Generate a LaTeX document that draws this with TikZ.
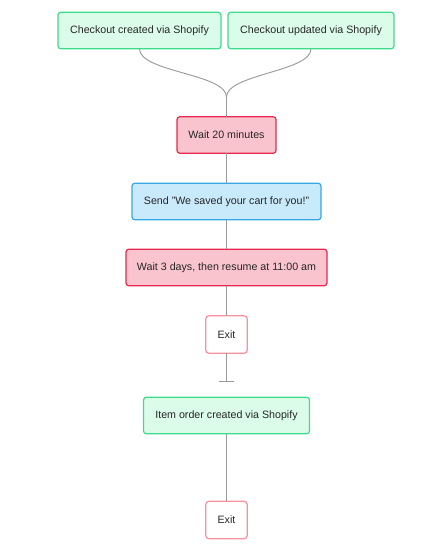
\documentclass[tikz,border=0pt]{standalone}
\usepackage{fontspec}
\setmainfont{Liberation Sans}
\usetikzlibrary{arrows.meta}

\definecolor{trigfill}{HTML}{DCFCEA}
\definecolor{trigline}{HTML}{3EDC8A}
\definecolor{waitfill}{HTML}{F9C4CD}
\definecolor{waitline}{HTML}{E8284E}
\definecolor{sendfill}{HTML}{C9EAFB}
\definecolor{sendline}{HTML}{37A7E6}
\definecolor{exitline}{HTML}{F7909F}
\definecolor{wire}{HTML}{9A9A9A}

\tikzset{
	box/.style={draw,rounded corners=2.2pt,line width=0.9pt,inner sep=0,outer sep=0,
		minimum height=27.5pt,font=\fontsize{8}{9.6}\selectfont,text=black!85},
	trigger/.style={box,fill=trigfill,draw=trigline},
	waitbox/.style={box,fill=waitfill,draw=waitline},
	sendbox/.style={box,fill=sendfill,draw=sendline},
	exitbox/.style={box,fill=white,draw=exitline,minimum width=31pt,minimum height=28pt},
	wire/.style={draw=wire,line width=0.7pt}
}

\begin{document}
\begin{tikzpicture}[x=0.75pt,y=-0.75pt]
	\useasboundingbox (0,0) rectangle (448,549);
	\node[trigger,minimum width=122.25pt] (created) at (139.5,30.5) {Checkout created via Shopify};
	\node[trigger,minimum width=124.5pt] (updated) at (311,30.5) {Checkout updated via Shopify};
	\coordinate (join) at (226.5,97);
	\node[waitbox,minimum width=74.25pt] (wait1) at (226.5,135) {Wait 20 minutes};
	\node[sendbox,minimum width=141.75pt] (send) at (226.5,201.5) {Send "We saved your cart for you!"};
	\node[waitbox,minimum width=150.75pt] (wait2) at (226.5,267.5) {Wait 3 days, then resume at 11:00 am};
	\node[exitbox] (exit1) at (226.5,334.5) {Exit};
	\coordinate (stop) at (226.5,382);
	\node[trigger,minimum width=124.5pt] (ordered) at (226.5,415.5) {Item order created via Shopify};
	\node[exitbox] (exit2) at (226.5,520) {Exit};
	\draw[wire] (created.south) to[out=-90,in=90,looseness=0.6] (join);
	\draw[wire] (updated.south) to[out=-90,in=90,looseness=0.6] (join);
	\draw[wire] (join) -- (wait1);
	\draw[wire] (wait1) -- (send);
	\draw[wire] (send) -- (wait2);
	\draw[wire] (wait2) -- (exit1);
	\draw[wire,-{Bar[width=11pt,line width=0.7pt]}] (exit1) -- (stop);
	\draw[wire] (ordered) -- (exit2);
\end{tikzpicture}
\end{document}
